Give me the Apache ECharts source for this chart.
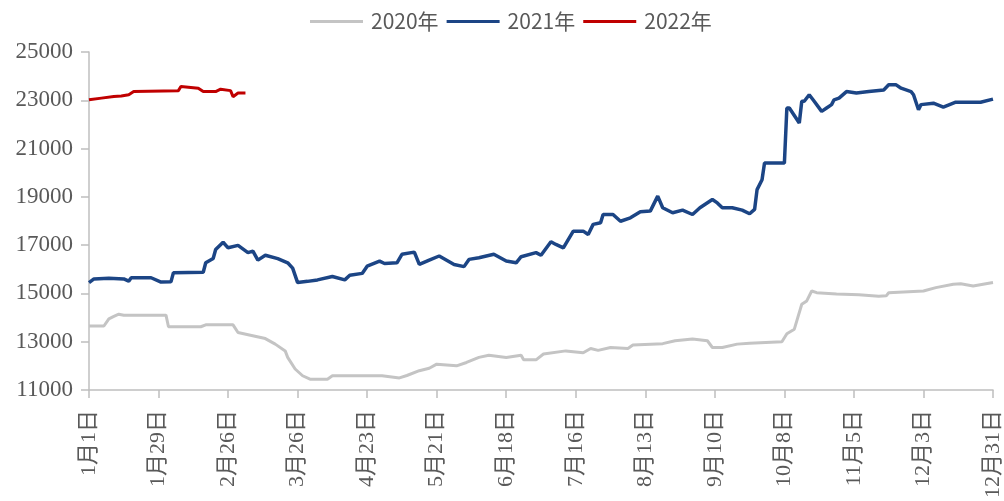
<!DOCTYPE html>
<html>
<head>
<meta charset="utf-8">
<script src="https://cdn.jsdelivr.net/npm/echarts@6/dist/echarts.min.js"></script>
<style>
html,body{margin:0;padding:0;background:#fff;}
#chart{width:1004px;height:501px;}
</style>
</head>
<body>
<div id="chart"></div>
<script>
var seriesNames = ['2020年', '2021年', '2022年'];
var xTickDays = [0, 28, 56, 84, 112, 140, 168, 196, 224, 252, 280, 308, 336, 364];
var xTickLabels = ['1月1日','1月29日','2月26日','3月26日','4月23日','5月21日','6月18日','7月16日','8月13日','9月10日','10月8日','11月5日','12月3日','12月31日'];
var yTicks = [11000, 13000, 15000, 17000, 19000, 21000, 23000, 25000];

var days2020 = [0,6,8,10,12,14,31,32,45,47,58,60,65,71,75,79,80,83,86,89,96,98,110,118,125,128,133,137,140,148,152,157,161,168,174,175,180,183,192,199,202,205,210,217,219,231,236,243,249,251,255,261,266,279,281,284,287,289,291,293,301,310,318,321,322,336,341,348,351,356,364];
var vals2020 = [13650,13650,13950,14050,14140,14100,14100,13620,13620,13700,13700,13380,13270,13130,12900,12620,12350,11870,11590,11450,11450,11590,11590,11590,11500,11600,11800,11900,12070,12000,12140,12350,12440,12350,12440,12250,12250,12490,12620,12540,12720,12640,12760,12720,12860,12920,13040,13110,13040,12760,12760,12900,12940,13000,13330,13520,14550,14690,15100,15030,14980,14950,14880,14900,15030,15100,15240,15380,15400,15310,15450];

var days2021 = [0,2,8,14,16,17,25,29,33,34,46,47,50,51,54,56,60,64,66,68,71,76,80,82,84,88,92,98,103,105,110,112,117,119,124,126,131,133,137,141,147,151,153,157,163,168,172,174,180,182,186,188,191,195,199,201,203,206,207,211,214,218,222,226,229,231,235,239,243,246,251,253,255,259,263,266,268,269,271,272,280,281,282,286,287,288,290,292,295,297,299,300,302,305,309,314,320,322,325,327,331,332,334,335,340,344,349,355,359,364];
var vals2021 = [15450,15600,15630,15600,15510,15650,15650,15470,15480,15860,15880,16270,16450,16820,17120,16890,16990,16690,16750,16380,16580,16440,16270,16050,15450,15500,15560,15700,15560,15750,15830,16130,16340,16240,16270,16620,16710,16200,16380,16550,16200,16110,16410,16480,16620,16340,16270,16520,16690,16580,17140,17030,16890,17580,17580,17440,17860,17930,18270,18270,17990,18130,18380,18410,19030,18550,18340,18450,18270,18550,18890,18750,18550,18550,18450,18300,18480,19300,19710,20400,20400,22680,22680,22060,22960,22960,23230,22960,22540,22680,22820,23020,23090,23360,23300,23360,23430,23640,23640,23500,23360,23230,22610,22820,22880,22720,22920,22920,22920,23050];

var days2022 = [0,5,10,13,16,18,36,37,44,46,51,53,57,58,60,63];
var vals2022 = [23020,23090,23160,23180,23230,23360,23400,23570,23500,23360,23360,23460,23400,23150,23300,23300];

function zip(d, v) { return d.map(function (x, i) { return [x, v[i]]; }); }

var labelColor = '#595959';
var axisColor = '#bfbfbf';
var serifFont = "'Liberation Serif', 'Noto Sans CJK SC', serif";

var chart = echarts.init(document.getElementById('chart'));
chart.setOption({
  animation: false,
  backgroundColor: '#ffffff',
  legend: {
    top: 6,
    left: 305,
    itemWidth: 53,
    itemHeight: 3,
    itemGap: 8,
    icon: 'rect',
    textStyle: { color: labelColor, fontSize: 21, fontFamily: "'Noto Sans CJK SC', 'Noto Sans', sans-serif", padding: [0, 0, 0, 3] },
    data: seriesNames
  },
  grid: { left: 89, right: 11, top: 52, bottom: 110, containLabel: false },
  xAxis: {
    type: 'value',
    min: 0,
    max: 364,
    interval: 28,
    splitLine: { show: false },
    axisLine: { show: true, lineStyle: { color: axisColor, width: 1.5 } },
    axisTick: { show: true, length: 8, lineStyle: { color: axisColor, width: 1.5 }, customValues: xTickDays },
    axisLabel: {
      rotate: 90,
      margin: 20,
      color: labelColor,
      fontSize: 22,
      fontFamily: serifFont,
      customValues: xTickDays,
      formatter: function (v) { var i = xTickDays.indexOf(Math.round(v)); return i >= 0 ? xTickLabels[i] : ''; }
    }
  },
  yAxis: {
    type: 'value',
    min: 11000,
    max: 25000,
    splitLine: { show: false },
    axisLine: { show: true, lineStyle: { color: axisColor, width: 1.5 } },
    axisTick: { show: true, length: 8, lineStyle: { color: axisColor, width: 1.5 }, customValues: yTicks },
    axisLabel: { margin: 16, color: labelColor, fontSize: 23, fontFamily: serifFont, customValues: yTicks,
      formatter: function (v) { return String(v); } }
  },
  series: [
    { name: seriesNames[0], type: 'line', showSymbol: false, symbol: 'none', data: zip(days2020, vals2020),
      lineStyle: { color: '#c4c4c4', width: 3 }, itemStyle: { color: '#c4c4c4' } },
    { name: seriesNames[1], type: 'line', showSymbol: false, symbol: 'none', data: zip(days2021, vals2021),
      lineStyle: { color: '#1c4585', width: 3.5 }, itemStyle: { color: '#1c4585' } },
    { name: seriesNames[2], type: 'line', showSymbol: false, symbol: 'none', data: zip(days2022, vals2022),
      lineStyle: { color: '#c00000', width: 3 }, itemStyle: { color: '#c00000' } }
  ]
});
</script>
</body>
</html>
